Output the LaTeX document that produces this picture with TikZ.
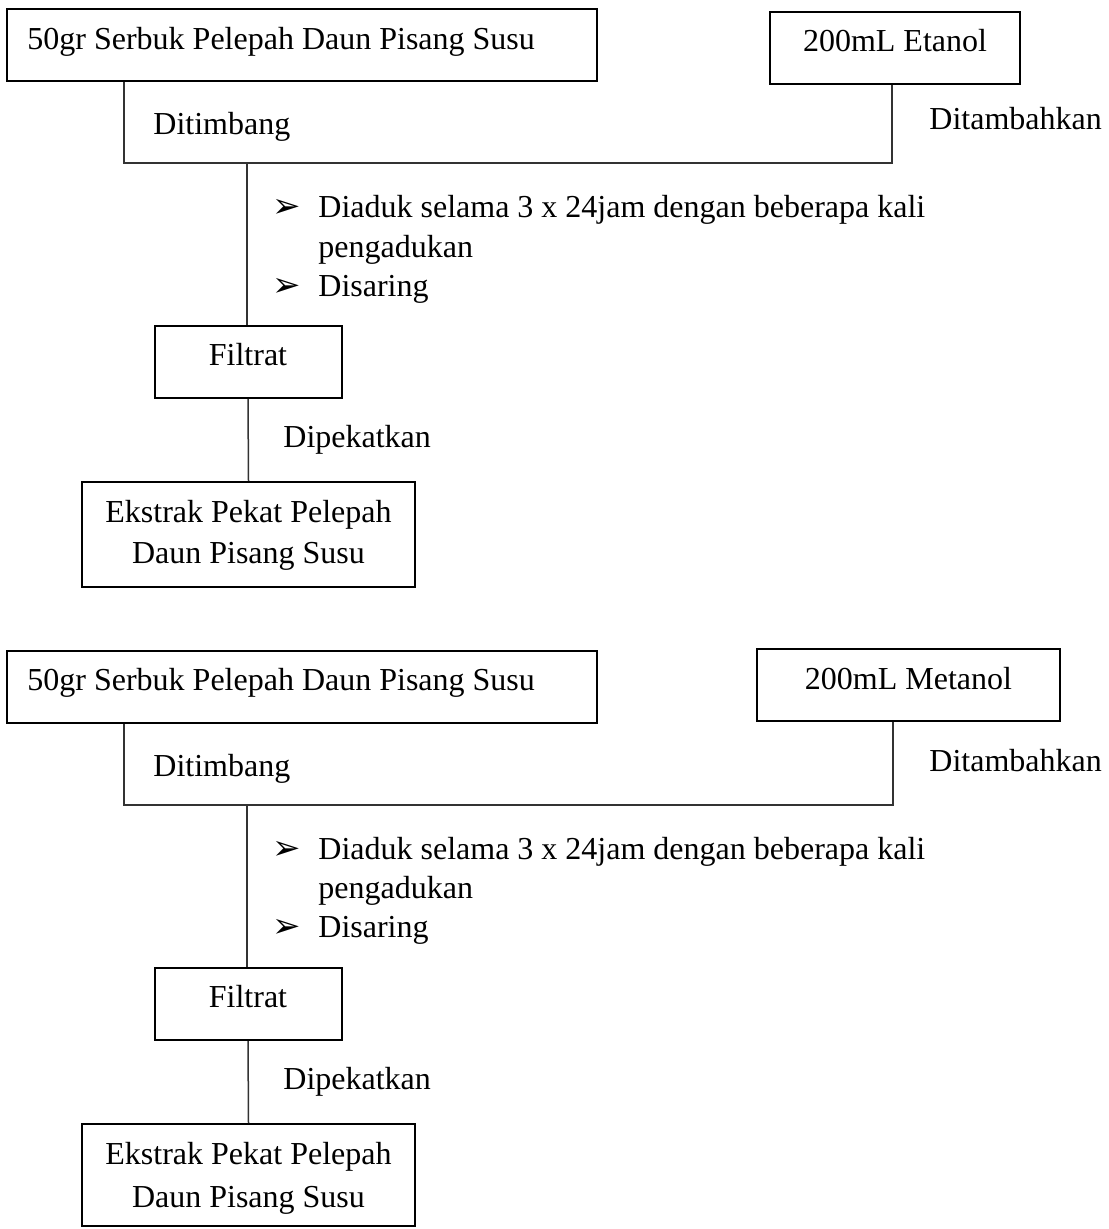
\documentclass[tikz,border=0pt]{standalone}
\usepackage{fontspec}
\setmainfont{Liberation Serif}
\newfontfamily\dvfont{DejaVu Sans}
\begin{document}
\begin{tikzpicture}[x=0.5pt,y=-0.5pt,
  box/.style={draw=black, line width=1pt, rectangle, inner sep=0pt},
  txt/.style={anchor=base west, inner sep=0pt, font=\fontsize{16}{19}\selectfont},
  ctxt/.style={anchor=base, inner sep=0pt, font=\fontsize{16}{19}\selectfont},
  conn/.style={draw=black!80, line width=0.75pt},
  bul/.style={anchor=base west, inner sep=0pt, font=\dvfont\fontsize{17}{19}\selectfont}]
\useasboundingbox (0,0) rectangle (1108,1229);

% ===== Section 1 =====
\node[box, minimum width=295pt, minimum height=36pt] (a1) at (302,45) {};
\node[txt] (a1t) at (27,50) {50gr Serbuk Pelepah Daun Pisang Susu};
\node[box, minimum width=125pt, minimum height=36pt] (a2) at (895,48) {};
\node[ctxt] (a2t) at (895,52) {200mL Etanol};
\node[txt] (a3) at (929,130) {Ditambahkan};
\node[txt] (a4) at (153,135) {Ditimbang};
\coordinate (aj1) at (124,163);
\coordinate (aj2) at (892,163);
\coordinate (aj3) at (247,163);
\draw[conn] (a1.south -| aj1) -- (aj1) -- (aj2) -- (a2.south -| aj2);
\node[bul] (ab1) at (272,218) {➢};
\node[txt] (ab1t) at (318,218) {Diaduk selama 3 x 24jam dengan beberapa kali};
\node[txt] (ab1u) at (318,258) {pengadukan};
\node[bul] (ab2) at (272,297) {➢};
\node[txt] (ab2t) at (318,297) {Disaring};
\node[box, minimum width=93.5pt, minimum height=36pt] (a5) at (248,362) {};
\node[ctxt] (a5t) at (248,366) {Filtrat};
\draw[conn] (aj3) -- (a5.north -| aj3);
\node[txt] (a6) at (283,447) {Dipekatkan};
\node[box, minimum width=166.5pt, minimum height=52.5pt] (a7) at (248.5,534.5) {};
\node[ctxt] (a7t) at (248.5,522) {Ekstrak Pekat Pelepah};
\node[ctxt] (a7u) at (248.5,563) {Daun Pisang Susu};
\draw[conn] (a5.south) -- (a7.north);

% ===== Section 2 =====
\node[box, minimum width=295pt, minimum height=36pt] (b1) at (302,687) {};
\node[txt] (b1t) at (27,690) {50gr Serbuk Pelepah Daun Pisang Susu};
\node[box, minimum width=151.5pt, minimum height=36pt] (b2) at (908.5,685) {};
\node[ctxt] (b2t) at (908.5,689) {200mL Metanol};
\node[txt] (b3) at (929,771) {Ditambahkan};
\node[txt] (b4) at (153,776) {Ditimbang};
\coordinate (bj1) at (124,805);
\coordinate (bj2) at (893,805);
\coordinate (bj3) at (247,805);
\draw[conn] (b1.south -| bj1) -- (bj1) -- (bj2) -- (b2.south -| bj2);
\node[bul] (bb1) at (272,859) {➢};
\node[txt] (bb1t) at (318,859) {Diaduk selama 3 x 24jam dengan beberapa kali};
\node[txt] (bb1u) at (318,898) {pengadukan};
\node[bul] (bb2) at (272,937) {➢};
\node[txt] (bb2t) at (318,937) {Disaring};
\node[box, minimum width=93.5pt, minimum height=36pt] (b5) at (248,1004) {};
\node[ctxt] (b5t) at (248,1007) {Filtrat};
\draw[conn] (bj3) -- (b5.north -| bj3);
\node[txt] (b6) at (283,1089) {Dipekatkan};
\node[box, minimum width=166.5pt, minimum height=51pt] (b7) at (248.5,1175) {};
\node[ctxt] (b7t) at (248.5,1164) {Ekstrak Pekat Pelepah};
\node[ctxt] (b7u) at (248.5,1207) {Daun Pisang Susu};
\draw[conn] (b5.south) -- (b7.north);
\end{tikzpicture}
\end{document}
